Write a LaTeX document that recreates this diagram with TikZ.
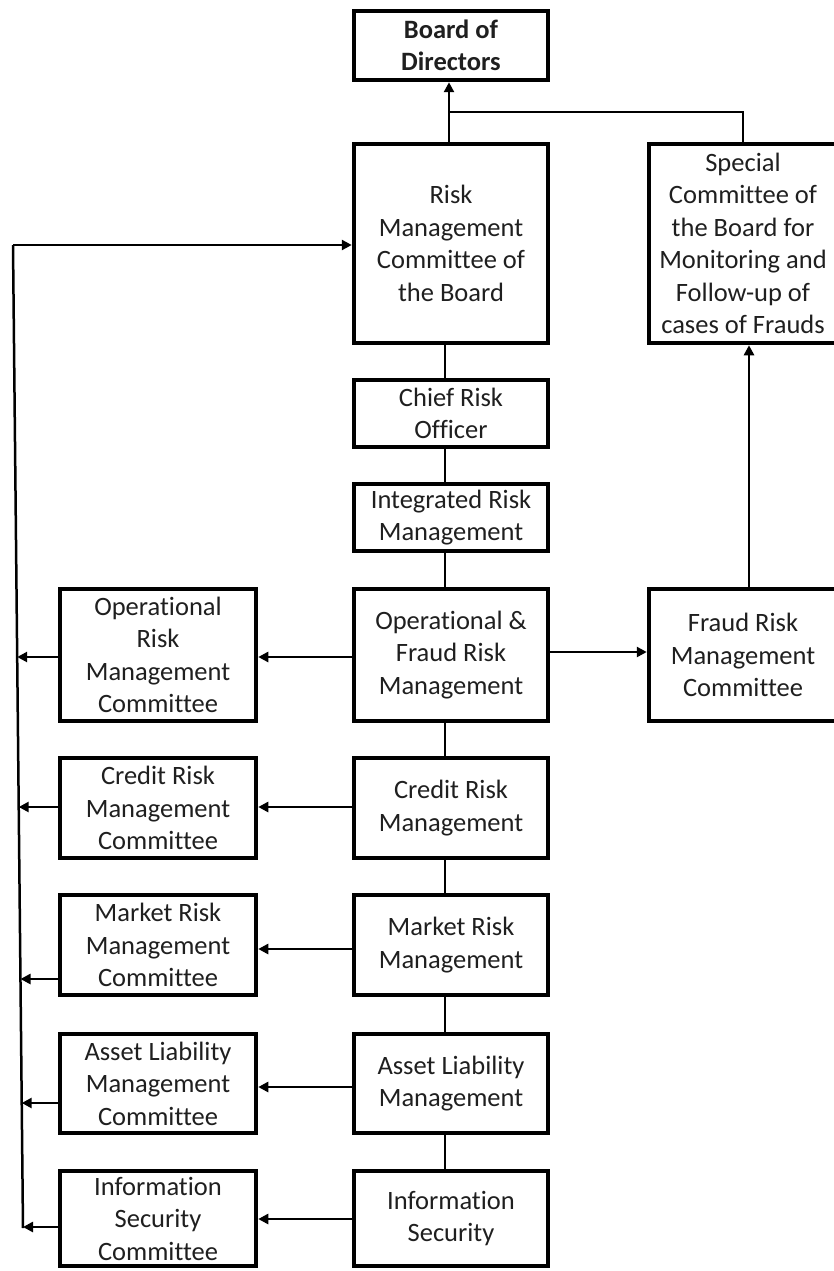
\documentclass[tikz,border=0pt]{standalone}
\usepackage{fontspec}
\setmainfont[Ligatures=NoCommon]{Carlito}
\usetikzlibrary{arrows.meta}
\begin{document}
\begin{tikzpicture}[x=1pt,y=-1pt,
 box/.style={draw, line width=4.5pt, align=center, inner sep=0pt,
   font=\fontsize{26.5}{32.5}\selectfont, text=black!88},
 cbox/.style={box, minimum width=194pt},
 lbox/.style={box, minimum width=196pt},
 rbox/.style={box, minimum width=188pt},
 link/.style={line width=2.5pt},
 arr/.style={line width=2.6pt, -{Triangle[length=10pt,width=10pt]}}]
\useasboundingbox (0,0) rectangle (833,1271);
% centre column
\node[cbox, minimum height=69pt, font=\fontsize{26.5}{32}\selectfont\bfseries] (bod) at (451,45.5) {Board of\\Directors};
\node[cbox, minimum height=199pt] (rmcb) at (451,243.5) {Risk\\Management\\Committee of\\the Board};
\node[cbox, minimum height=67pt] (cro) at (451,413.5) {Chief Risk\\Officer};
\node[cbox, minimum height=67pt] (irm) at (451,517.5) {Integrated Risk\\Management};
\node[cbox, minimum height=132pt] (ofrm) at (451,655) {Operational \&\\Fraud Risk\\Management};
\node[cbox, minimum height=100pt] (crm) at (451,808) {Credit Risk\\Management};
\node[cbox, minimum height=100pt] (mrm) at (451,945) {Market Risk\\Management};
\node[cbox, minimum height=99pt] (alm) at (451,1083.5) {Asset Liability\\Management};
\node[cbox, minimum height=95pt] (ism) at (451,1218.5) {Information\\Security};
% right column
\node[rbox, minimum height=199pt] (spec) at (743,243.5) {Special\\Committee of\\the Board for\\Monitoring and\\Follow-up of\\cases of Frauds};
\node[rbox, minimum height=132pt] (frmc) at (743,655) {Fraud Risk\\Management\\Committee};
% left column
\node[lbox, minimum height=132pt] (oprmc) at (158,655) {Operational\\Risk\\Management\\Committee};
\node[lbox, minimum height=100pt] (crmc) at (158,808) {Credit Risk\\Management\\Committee};
\node[lbox, minimum height=100pt] (mrmc) at (158,945) {Market Risk\\Management\\Committee};
\node[lbox, minimum height=99pt] (almc) at (158,1083.5) {Asset Liability\\Management\\Committee};
\node[lbox, minimum height=95pt] (isc) at (158,1218.5) {Information\\Security\\Committee};
% top connectors
\coordinate (j) at (449,112);
\draw[link] (spec.north) |- (j);
\draw[arr] (rmcb.north -| j) -- (bod.south -| j);
\draw[arr] (frmc.north -| 749,0) -- (spec.south -| 749,0);
% centre chain
\draw[link] (rmcb.south -| 445,0) -- (cro.north -| 445,0);
\draw[link] (cro.south -| 445,0) -- (irm.north -| 445,0);
\draw[link] (irm.south -| 445,0) -- (ofrm.north -| 445,0);
\draw[link] (ofrm.south -| 445,0) -- (crm.north -| 445,0);
\draw[link] (crm.south -| 445,0) -- (mrm.north -| 445,0);
\draw[link] (mrm.south -| 445,0) -- (alm.north -| 445,0);
\draw[link] (alm.south -| 445,0) -- (ism.north -| 445,0);
% horizontal arrows
\draw[arr] (ofrm.west |- 0,657) -- (oprmc.east |- 0,657);
\draw[arr] (ofrm.east |- 0,652) -- (frmc.west |- 0,652);
\draw[arr] (crm.west |- 0,807) -- (crmc.east |- 0,807);
\draw[arr] (mrm.west |- 0,949) -- (mrmc.east |- 0,949);
\draw[arr] (alm.west |- 0,1087) -- (almc.east |- 0,1087);
\draw[arr] (ism.west |- 0,1219) -- (isc.east |- 0,1219);
% spine
\coordinate (st) at (13,245);
\coordinate (sb) at (23,1228);
\coordinate (s1) at (17.2,657);
\coordinate (s2) at (18.7,807);
\coordinate (s3) at (20.5,979);
\coordinate (s4) at (21.7,1103);
\coordinate (s5) at (23,1227);
\draw[link] (sb) -- (st);
\draw[arr] (st) -- (st -| rmcb.west);
\draw[arr] (oprmc.west |- s1) -- (s1);
\draw[arr] (crmc.west |- s2) -- (s2);
\draw[arr] (mrmc.west |- s3) -- (s3);
\draw[arr] (almc.west |- s4) -- (s4);
\draw[arr] (isc.west |- s5) -- (s5);
\end{tikzpicture}
\end{document}
